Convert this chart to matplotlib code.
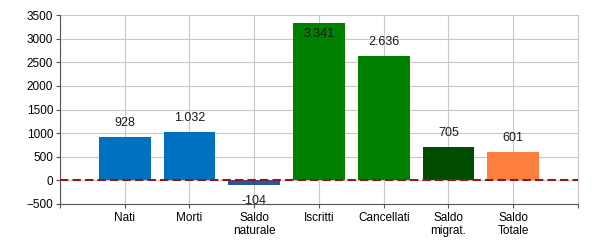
import matplotlib.pyplot as plt

plt.rcParams["font.family"] = ["Liberation Sans", "DejaVu Sans"]

categorie = ["Nati", "Morti", "Saldo\nnaturale", "Iscritti", "Cancellati", "Saldo\nmigrat.", "Saldo\nTotale"]
valori = [928, 1032, -104, 3341, 2636, 705, 601]
etichette = ["928", "1.032", "-104", "3.341", "2.636", "705", "601"]
colori = ["#0070C0", "#0070C0", "#2F5597", "#008000", "#008000", "#004D00", "#FF7F40"]

fig = plt.figure(figsize=(6, 2.5), dpi=100)
ax = fig.add_axes([0.1, 0.184, 0.8633, 0.756])

x = list(range(len(categorie)))
ax.bar(x, valori, width=0.8, color=colori, zorder=2)

# linea dello zero tratteggiata
ax.axhline(0, color="#8B1A1A", linestyle=(0, (4, 2)), linewidth=1.5, zorder=3)

for xi, v, lab in zip(x, valori, etichette):
    if v < 0:
        off = -11
    elif v > 3000:
        off = -8
    else:
        off = 10
    ax.annotate(lab, (xi, v), xytext=(0, off), textcoords="offset points",
                ha="center", va="center", fontsize=9, color="#1a1a1a", zorder=4)

ax.set_xlim(-1, 7)
ax.set_ylim(-500, 3500)
ax.set_yticks(range(-500, 3501, 500))
ax.set_xticks([-1] + x + [7])
ax.set_xticklabels([""] + categorie + [""], fontsize=8.5, linespacing=1.1)
ax.tick_params(axis="y", labelsize=8.5, length=3, color="#555555", pad=2)
ax.tick_params(axis="x", length=3, color="#555555", pad=3)

ax.grid(True, color="#C8C8C8", linewidth=0.8, zorder=0)
ax.set_axisbelow(True)
for s in ["left", "bottom"]:
    ax.spines[s].set_color("#555555")
ax.spines["right"].set_color("#C8C8C8")
ax.spines["top"].set_visible(False)

fig.savefig("out.png", dpi=100)
